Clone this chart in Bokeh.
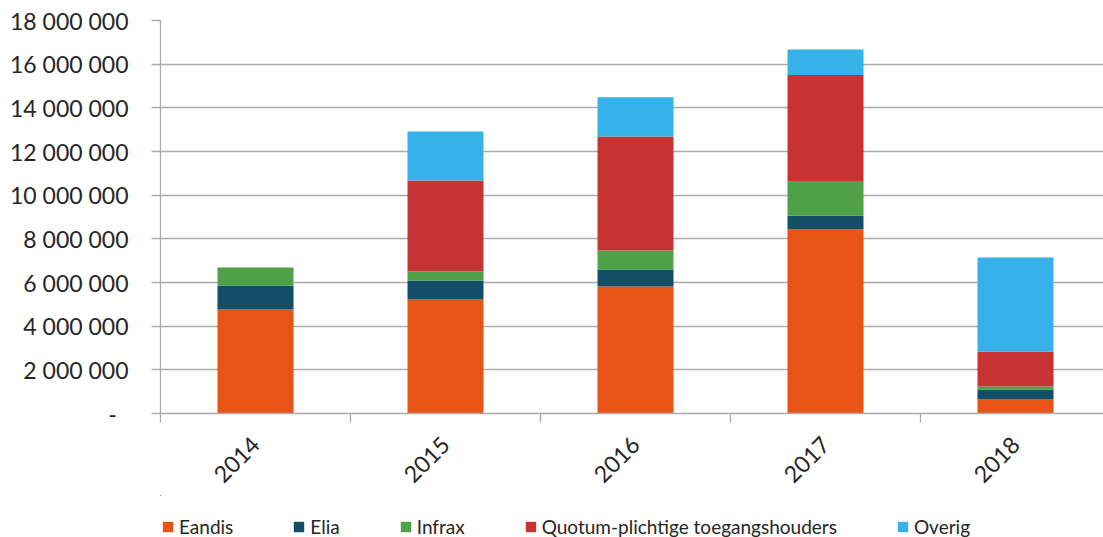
from bokeh.plotting import figure
from bokeh.models import ColumnDataSource, FixedTicker, Legend, LegendItem, Range1d
from bokeh.layouts import column
from bokeh.embed import file_html
from bokeh.resources import INLINE

years = ["2014", "2015", "2016", "2017", "2018"]
series = ["Eandis", "Elia", "Infrax", "Quotum-plichtige toegangshouders", "Overig"]
eandis = [4760000, 5220000, 5820000, 8440000, 640000]
elia = [1100000, 870000, 780000, 620000, 460000]
infrax = [830000, 410000, 870000, 1550000, 140000]
quotum = [0, 4170000, 5220000, 4890000, 1590000]
overig = [0, 2250000, 1790000, 1170000, 4320000]
colors = ["#E85415", "#124F67", "#4EA146", "#C73333", "#36B1E9"]
y_ticks = [0, 2000000, 4000000, 6000000, 8000000, 10000000, 12000000, 14000000, 16000000, 18000000]

xpos = list(range(len(years)))
keys = ["eandis", "elia", "infrax", "quotum", "overig"]
src = ColumnDataSource(dict(x=xpos, eandis=eandis, elia=elia, infrax=infrax, quotum=quotum, overig=overig))

W = 1103
H1, H2 = 495, 42
left, top = 160, 20
frame_h = 393
p = figure(width=W, height=H1, output_backend="svg", toolbar_location=None,
           min_border_left=left, min_border_right=0, min_border_top=top,
           min_border_bottom=H1 - top - frame_h)
p.x_range = Range1d(-0.5, -0.5 + (W - left) / 190.0)
p.y_range = Range1d(0, 18000000)
p.outline_line_color = None
p.background_fill_color = "white"

rs = p.vbar_stack(keys, x="x", width=0.4, source=src, color=colors, line_color=None)

grey = "#ABABAB"
font = "Lato"
txt = "#262626"

yax = p.yaxis[0]
yax.ticker = FixedTicker(ticks=y_ticks, minor_ticks=[])
ov = {}
for t in y_ticks:
    ov[t] = "-\u00a0\u00a0" if t == 0 else f"{t:,}".replace(",", " ")
yax.major_label_overrides = ov
yax.major_tick_in = 0
yax.major_tick_out = 9
yax.major_tick_line_color = grey
yax.major_tick_line_width = 1.3
yax.minor_tick_line_color = None
yax.axis_line_color = grey
yax.axis_line_width = 1.3
yax.major_label_standoff = 23
yax.major_label_text_font = font
yax.major_label_text_font_size = "23px"
yax.major_label_text_color = txt

xax = p.xaxis[0]
xax.ticker = FixedTicker(ticks=xpos, minor_ticks=[i - 0.5 for i in range(len(years) + 1)])
xax.major_label_overrides = {i: y for i, y in enumerate(years)}
xax.major_tick_line_color = None
xax.major_tick_in = 0
xax.major_tick_out = 0
xax.minor_tick_in = 0
xax.minor_tick_out = 9
xax.minor_tick_line_color = grey
xax.minor_tick_line_width = 1.3
xax.axis_line_color = grey
xax.axis_line_width = 1.3
xax.major_label_orientation = 0.785398
xax.major_label_standoff = 18
xax.major_label_text_font = font
xax.major_label_text_font_size = "23px"
xax.major_label_text_color = txt

p.xgrid.grid_line_color = None
p.ygrid.grid_line_color = grey
p.ygrid.grid_line_width = 1.3

# legend strip below the chart (its bars lie outside its view; only the legend shows)
q = figure(width=W, height=H2, output_backend="svg", toolbar_location=None,
           x_axis_type=None, y_axis_type=None,
           min_border_left=0, min_border_right=0, min_border_top=0, min_border_bottom=0,
           x_range=Range1d(10, 11), y_range=Range1d(-20000000, -19000000))
q.outline_line_color = None
q.xgrid.grid_line_color = None
q.ygrid.grid_line_color = None
qrs = q.vbar_stack(keys, x="x", width=0.4, source=src, color=colors, line_color=None)
items = [LegendItem(label=s, renderers=[r]) for s, r in zip(series, qrs)]
legend = Legend(items=items, orientation="horizontal", location=(1, -1),
                padding=0, margin=0, spacing=59, glyph_width=13, glyph_height=13,
                label_standoff=5, label_height=12, label_text_font=font,
                label_text_font_size="19px", label_text_color=txt,
                border_line_color=None, background_fill_alpha=0)
q.add_layout(legend, "center")

open("out.html", "w").write(file_html(column(p, q, spacing=0), INLINE))
